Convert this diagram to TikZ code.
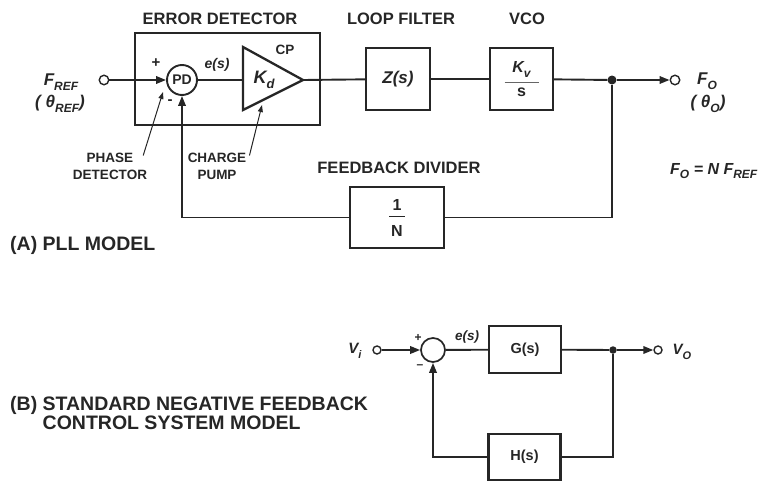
\documentclass[tikz,border=0pt]{standalone}
\usepackage{fontspec}
\setmainfont{Liberation Sans}
\usetikzlibrary{arrows.meta}

\colorlet{ink}{black!85}
\newcommand{\sbs}[2][12]{\raisebox{-0.3em}{\fontsize{#1}{#1}\selectfont #2}}

\tikzset{
  wire/.style={draw=ink, line width=1.9pt},
  flow/.style={wire, -{Triangle[length=10pt,width=7.5pt]}},
  pointer/.style={draw=ink, line width=1pt, -{Triangle[length=7pt,width=5pt]}},
  block/.style={draw=ink, line width=2.3pt, inner sep=0pt},
  port/.style={circle, draw=ink, line width=1.4pt, fill=white, minimum size=9.5pt, inner sep=0pt},
  dot/.style={circle, fill=ink, minimum size=9pt, inner sep=0pt},
  title/.style={font=\fontsize{#1}{#1}\selectfont\bfseries, text=ink, inner sep=0pt},
  title/.default=16.5,
  sig/.style={font=\fontsize{#1}{#1}\selectfont\bfseries\itshape, text=ink, inner sep=0pt},
  sig/.default=17,
  note/.style={font=\fontsize{13.5}{17}\selectfont\bfseries, align=center, text=ink, inner sep=0pt},
  caption/.style={font=\fontsize{19.5}{19}\selectfont\bfseries, align=left, text=ink, inner sep=0pt},
}

\begin{document}
\begin{tikzpicture}[x=1pt,y=1pt]
\useasboundingbox (0,0) rectangle (776,-482);
% (A) PLL model
\node[title] (edtitle) at (220,-19) {ERROR DETECTOR};
\node[title] (lftitle) at (401,-19) {LOOP FILTER};
\node[title] (vcotitle) at (527,-19) {VCO};
\node[block, minimum width=185, minimum height=92] (edbox) at (227.5,-79) {};
% input and phase detector
\node[port] (fref) at (104,-80) {};
\node[sig] (freflbl) at (61,-82) {F\sbs{REF}};
\node[sig] (threflbl) at (60,-104) {( θ\sbs{REF})};
\node[circle, draw=ink, line width=1.9pt, minimum size=30pt, inner sep=0pt,
      title=14] (pd) at (182,-80) {PD};
\node[title=15] (pdplus) at (156,-63) {+};
\node[title=15] (pdminus) at (170,-102) {-};
\draw[flow] (fref) -- (pd);
\node[sig=14] (es) at (217,-65) {e(s)};
% charge pump
\coordinate (cpin) at (243,-80);
\coordinate (cpout) at (303,-80);
\draw[block] (243,-47) -- (243,-110) -- (cpout) -- cycle;
\node[sig=18] (kd) at (264,-80) {K\sbs[13]{d}};
\node[title=13.5] (cplbl) at (285,-50) {CP};
\draw[wire] (pd) -- (cpin);
% loop filter, vco
\node[block, minimum width=64, minimum height=62, sig] (zs) at (398,-79) {Z(s)};
\draw[wire] (cpout) -- (zs);
\node[block, minimum width=63, minimum height=62, align=center,
      font=\fontsize{16}{12}\selectfont\bfseries, text=ink] (vco) at (521.5,-79)
  {\itshape K\sbs[12]{v}\\[-2pt]\textcolor{black!60}{\rule{34pt}{0.9pt}}\\[2pt]s};
\draw[wire] (zs) -- (vco);
\node[dot] (fojn) at (612,-80) {};
\draw[wire] (vco) -- (fojn);
\node[port] (fo) at (675,-80) {};
\draw[flow] (fojn) -- (fo);
\node[sig] (folbl) at (707,-81) {F\sbs{O}};
\node[sig] (tholbl) at (708,-104) {( θ\sbs{O})};
\node[sig=16, anchor=west] (foeq) at (670,-171) {F\sbs{O} = N F\sbs{REF}};
% feedback divider
\node[title] (fbtitle) at (399,-168) {FEEDBACK DIVIDER};
\node[block, minimum width=94, minimum height=61, align=center,
      font=\fontsize{16}{13}\selectfont\bfseries, text=ink] (div) at (397,-217.5)
  {1\\[-6pt]\rule{16pt}{1pt}\\[6pt]N};
\draw[flow] (div) -| (pd);
\draw[wire] (div) -| (fojn);
% pointer labels
\node[note] (pdnote) at (110,-166) {PHASE\\DETECTOR};
\coordinate (pdhit) at (163,-92);
\draw[pointer] ([xshift=-4pt,yshift=-3pt]pdnote.north east) -- (pdhit);
\node[note] (cpnote) at (217,-166) {CHARGE\\PUMP};
\coordinate (cphit) at (262,-105);
\draw[pointer] ([xshift=3pt,yshift=-3pt]cpnote.north east) -- (cphit);
\node[caption, anchor=west] (capa) at (10,-245) {(A) PLL MODEL};

% (B) standard negative feedback
\node[sig=15] (vilbl) at (355,-351) {V\sbs[11]{i}};
\node[port, minimum size=8pt] (vi) at (377,-350) {};
\node[circle, draw=ink, line width=1.7pt, minimum size=24pt, inner sep=0pt] (sum) at (433,-350) {};
\draw[flow] (vi) -- (sum);
\node[title=12] (splus) at (418,-338) {+};
\node[title=12] (sminus) at (420,-367) {–};
\node[sig=13.5] (bes) at (467,-337) {e(s)};
\node[block, minimum width=72, minimum height=47, title=14.5] (gs) at (525,-349.5) {G(s)};
\draw[wire] (sum) -- (gs);
\node[dot, minimum size=7.5pt] (vojn) at (613,-350) {};
\draw[wire] (gs) -- (vojn);
\node[port, minimum size=8pt] (vo) at (658,-350) {};
\draw[flow] (vojn) -- (vo);
\node[sig=15] (volbl) at (682,-352) {V\sbs[11]{O}};
\node[block, minimum width=72, minimum height=46, title=14.5] (hs) at (524.5,-457) {H(s)};
\draw[wire] (vojn) |- (hs);
\draw[flow] (hs) -| (sum);
\node[caption, anchor=north west] (capb) at (10,-396)
  {(B) STANDARD NEGATIVE FEEDBACK\\\phantom{(B) }CONTROL SYSTEM MODEL};
\end{tikzpicture}
\end{document}
